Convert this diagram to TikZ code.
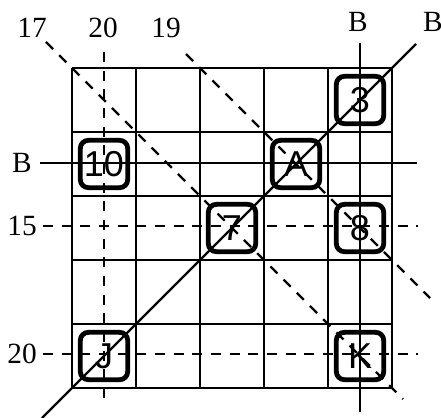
\documentclass[tikz,border=0pt]{standalone}
\usepackage{fontspec}
\setmainfont{Liberation Serif}
\newfontfamily\boxfont{Liberation Sans}
\begin{document}
\begin{tikzpicture}[x=0.75pt,y=-0.75pt,
  gridline/.style={line width=1.7pt},
  axisline/.style={line width=1.7pt},
  dashline/.style={line width=1.7pt, dash pattern=on 7.5pt off 6.5pt},
  cardbox/.style={draw, line width=3.6pt, rounded corners=6pt, minimum width=35.5pt, minimum height=35.5pt, inner sep=0pt, font=\boxfont\fontsize{27}{30}\selectfont},
  lbl/.style={font=\fontsize{22}{26}\selectfont, inner sep=0pt}]
\useasboundingbox (0,0) rectangle (441,417);
% grid
\foreach \i in {0,...,5} {
  \draw[gridline] (72+64*\i,68) -- (72+64*\i,388);
  \draw[gridline] (72,68+64*\i) -- (392,68+64*\i);
}
% labels
\node[lbl] (l17) at (32,28) {17};
\node[lbl] (l20t) at (103,28) {20};
\node[lbl] (l19) at (166,28) {19};
\node[lbl] (lBt) at (358,22) {B};
\node[lbl] (lBd) at (433,22) {B};
\node[lbl] (lBl) at (22,163) {B};
\node[lbl] (l15) at (22,226) {15};
\node[lbl] (l20l) at (22,354) {20};
% line end coordinates
\coordinate (v20a) at (104,52); \coordinate (v20b) at (104,404);
\coordinate (vBa) at (360,43); \coordinate (vBb) at (360,412);
\coordinate (hBa) at (40,163); \coordinate (hBb) at (417,163);
\coordinate (h15a) at (43,226); \coordinate (h15b) at (418,226);
\coordinate (h20a) at (43,354); \coordinate (h20b) at (418,354);
\coordinate (dBa) at (42,418); \coordinate (dBb) at (416,44);
\coordinate (d17a) at (46,42); \coordinate (d17b) at (403,399);
\coordinate (d19a) at (186,54); \coordinate (d19b) at (430,298);
% lines
\draw[dashline] (v20a) -- (v20b);
\draw[axisline] (vBa) -- (vBb);
\draw[axisline] (hBa) -- (hBb);
\draw[dashline] (h15a) -- (h15b);
\draw[dashline] (h20a) -- (h20b);
\draw[axisline] (dBa) -- (dBb);
\draw[dashline] (d17a) -- (d17b);
\draw[dashline] (d19a) -- (d19b);
% cards
\node[cardbox] (c3) at (360,100) {3};
\node[cardbox] (c10) at (104,164) {10};
\node[cardbox] (cA) at (296,164) {A};
\node[cardbox] (c7) at (232,228) {7};
\node[cardbox] (c8) at (360,228) {8};
\node[cardbox] (cJ) at (104,356) {J};
\node[cardbox] (cK) at (360,356) {K};
\end{tikzpicture}
\end{document}
